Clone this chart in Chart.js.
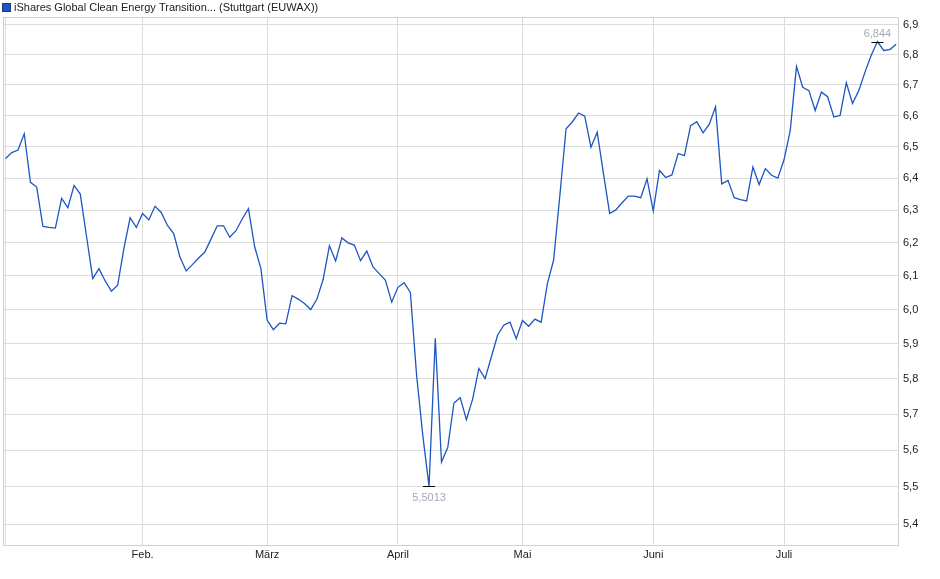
<!DOCTYPE html>
<html>
<head>
<meta charset="utf-8">
<script src="https://cdn.jsdelivr.net/npm/chart.js@4"></script>
<style>
html,body{margin:0;padding:0;background:#fff;}
#wrap{width:940px;height:579px;position:relative;}
</style>
</head>
<body>
<div id="wrap"><canvas id="c" width="940" height="579"></canvas></div>
<script>
const seriesName = 'iShares Global Clean Energy Transition... (Stuttgart (EUWAX))';
const prices = [
6.462,6.481,6.489,6.541,6.387,6.372,6.25,6.247,6.245,6.337,
6.308,6.377,6.35,6.22,6.092,6.122,6.085,6.054,6.072,6.182,
6.277,6.247,6.29,6.27,6.312,6.293,6.253,6.228,6.157,6.115,
6.134,6.154,6.172,6.212,6.252,6.252,6.217,6.237,6.273,6.305,
6.188,6.122,5.969,5.941,5.96,5.958,6.041,6.031,6.018,6.0,
6.031,6.09,6.191,6.145,6.215,6.2,6.193,6.146,6.175,6.127,
6.107,6.087,6.022,6.066,6.08,6.051,5.81,5.64,5.5013,5.916,
5.567,5.607,5.731,5.746,5.684,5.742,5.829,5.8,5.862,5.925,
5.954,5.963,5.915,5.968,5.951,5.972,5.963,6.077,6.147,6.345,
6.557,6.579,6.608,6.598,6.498,6.546,6.415,6.29,6.301,6.323,
6.344,6.344,6.339,6.398,6.298,6.424,6.402,6.41,6.478,6.471,
6.567,6.58,6.544,6.572,6.628,6.382,6.393,6.339,6.333,6.329,
6.435,6.38,6.43,6.409,6.4,6.458,6.552,6.761,6.692,6.681,
6.616,6.676,6.661,6.595,6.6,6.707,6.639,6.681,6.742,6.798,
6.844,6.814,6.817,6.835
];
const monthTickIndex = [0,22,42,63,83,104,125];
const monthTickLabels = ['','Feb.','März','April','Mai','Juni','Juli'];
const yTickValues = [5.4,5.5,5.6,5.7,5.8,5.9,6.0,6.1,6.2,6.3,6.4,6.5,6.6,6.7,6.8,6.9];

const FONT = "'Liberation Sans', Arial, sans-serif";
const lineColor = '#1d56c2';
const gridColor = '#dcdcdc';

const framePlugin = {
  id: 'frame',
  beforeDatasetsDraw(chart){
    const a = chart.chartArea, ctx = chart.ctx;
    ctx.save();
    ctx.strokeStyle = '#d0d0d0';
    ctx.lineWidth = 1;
    ctx.strokeRect(Math.round(a.left)-0.5, Math.round(a.top)+0.5, Math.round(a.right-a.left)+1, Math.round(a.bottom-a.top));
    ctx.restore();
  },
  afterDraw(chart){
    const ctx = chart.ctx;
    ctx.save();
    ctx.fillStyle = lineColor;
    ctx.fillRect(2.5,3.5,8,8);
    ctx.strokeStyle = '#1a3d7c';
    ctx.lineWidth = 1;
    ctx.strokeRect(2.5,3.5,8,8);
    ctx.fillStyle = '#222';
    ctx.font = '11px ' + FONT;
    ctx.textBaseline = 'middle';
    ctx.textAlign = 'left';
    ctx.fillText(seriesName, 14, 8);
    const xs = chart.scales.x, ys = chart.scales.y;
    let maxI = 0, minI = 0;
    prices.forEach((v,i)=>{ if(v>prices[maxI]) maxI=i; if(v<prices[minI]) minI=i; });
    const fmt = v => String(v).replace('.', ',');
    ctx.strokeStyle = '#000';
    ctx.lineWidth = 1;
    ctx.textAlign = 'center';
    ctx.fillStyle = '#a3a9b5';
    let px = xs.getPixelForValue(maxI), py = ys.getPixelForValue(prices[maxI]);
    ctx.beginPath(); ctx.moveTo(px-6, Math.round(py)+0.5); ctx.lineTo(px+6, Math.round(py)+0.5); ctx.stroke();
    ctx.fillText(fmt(prices[maxI]), px, py-8);
    px = xs.getPixelForValue(minI); py = ys.getPixelForValue(prices[minI]);
    ctx.beginPath(); ctx.moveTo(px-6, Math.round(py)+0.5); ctx.lineTo(px+6, Math.round(py)+0.5); ctx.stroke();
    ctx.fillText(fmt(prices[minI]), px, py+12);
    ctx.restore();
  }
};

new Chart(document.getElementById('c'), {
  type: 'line',
  data: {
    datasets: [{
      label: seriesName,
      data: prices.map((v,i)=>({x:i, y:v})),
      borderColor: lineColor,
      borderWidth: 1.3,
      pointRadius: 0,
      tension: 0,
      fill: false
    }]
  },
  options: {
    responsive: false,
    animation: false,
    devicePixelRatio: 1,
    layout: { padding: { left: 4, top: 17, right: 0, bottom: 0 } },
    plugins: { legend: { display: false }, tooltip: { enabled: false } },
    scales: {
      x: {
        type: 'linear',
        bounds: 'data',
        min: -0.25,
        max: 143.3,
        afterBuildTicks(scale){ scale.ticks = monthTickIndex.map(v=>({value:v})); },
        afterFit(scale){ scale.height = 34; },
        grid: { color: gridColor, drawTicks: false, tickLength: 0 },
        border: { display: true, color: '#d0d0d0' },
        ticks: {
          autoSkip: false, maxRotation: 0, padding: 3,
          color: '#222', font: { family: FONT, size: 11 },
          callback(v){ const i = monthTickIndex.indexOf(v); return i >= 0 ? monthTickLabels[i] : ''; }
        }
      },
      y: {
        type: 'logarithmic',
        bounds: 'data',
        position: 'right',
        min: 5.345,
        max: 6.927,
        afterDataLimits(scale){ scale.min = 5.345; scale.max = 6.927; },
        afterBuildTicks(scale){ scale.min = 5.345; scale.max = 6.927; scale.ticks = yTickValues.map(v=>({value:v})); },
        afterFit(scale){ scale.width = 42; },
        grid: { color: gridColor, drawTicks: false, tickLength: 0 },
        border: { display: true, color: '#d0d0d0' },
        ticks: {
          autoSkip: false, padding: 5,
          color: '#222', font: { family: FONT, size: 11 },
          callback(v){ return Number(v).toFixed(1).replace('.', ','); }
        }
      }
    }
  },
  plugins: [framePlugin]
});
</script>
</body>
</html>
